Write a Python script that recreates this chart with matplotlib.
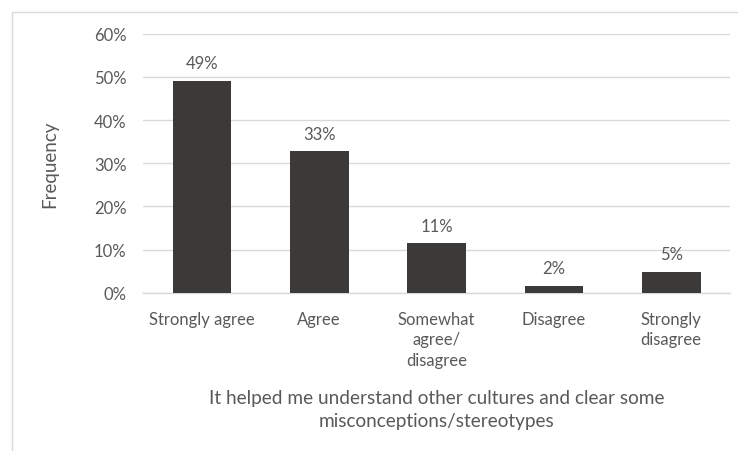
import matplotlib.pyplot as plt
from matplotlib.patches import Rectangle
from matplotlib.ticker import PercentFormatter

# survey responses (number of respondents per answer)
categories = ["Strongly agree", "Agree", "Somewhat\nagree/\ndisagree",
              "Disagree", "Strongly\ndisagree"]
responses = [30, 20, 7, 1, 3]
n_respondents = 61

y_label = "Frequency"
x_title = "It helped me understand other cultures and clear some\nmisconceptions/stereotypes"

share = [r / n_respondents for r in responses]

text_grey = "#595959"
bar_colour = "#3b3a38"
grid_grey = "#d9d9d9"

plt.rcParams["font.family"] = ["Lato", "DejaVu Sans"]

fig = plt.figure(figsize=(7.38, 4.52), dpi=100)
ax = fig.add_axes([0.194, 0.350, 0.795, 0.573])

# chart area border (runs off the right and bottom edge)
fig.patches.append(Rectangle((12 / 738, -0.1), 1.2, 1 - 13 / 452 + 0.1,
                             transform=fig.transFigure, fill=False,
                             edgecolor=grid_grey, linewidth=1.0))

x = range(len(categories))
ax.bar(x, share, width=0.5, color=bar_colour, zorder=3)

for xi, v in zip(x, share):
    ax.annotate(f"{v:.0%}", (xi, v), xytext=(0, 7), textcoords="offset points",
                ha="center", va="bottom", fontsize=12, color=text_grey)

ax.set_xlim(-0.5, len(categories) - 0.5)
ax.set_ylim(0, 0.6)
ax.set_yticks([0, 0.1, 0.2, 0.3, 0.4, 0.5, 0.6])
ax.yaxis.set_major_formatter(PercentFormatter(1.0, decimals=0))
ax.set_xticks(list(x))
ax.set_xticklabels(categories, linespacing=1.35)

ax.grid(axis="y", color=grid_grey, linewidth=1.0, zorder=0)
for side in ["top", "right", "left"]:
    ax.spines[side].set_visible(False)
ax.spines["bottom"].set_color(grid_grey)
ax.spines["bottom"].set_linewidth(1.0)

ax.tick_params(axis="both", length=0, labelsize=12, labelcolor=text_grey)
ax.tick_params(axis="y", pad=12)
ax.tick_params(axis="x", pad=13)

ax.set_ylabel(y_label, fontsize=13.5, color=text_grey)
ax.yaxis.set_label_coords(-0.145, 0.5)
fig.text(0.592, 1 - 390 / 452, x_title, ha="center", va="top",
         fontsize=13.7, color=text_grey, linespacing=1.4)

plt.savefig("out.png", dpi=100)
